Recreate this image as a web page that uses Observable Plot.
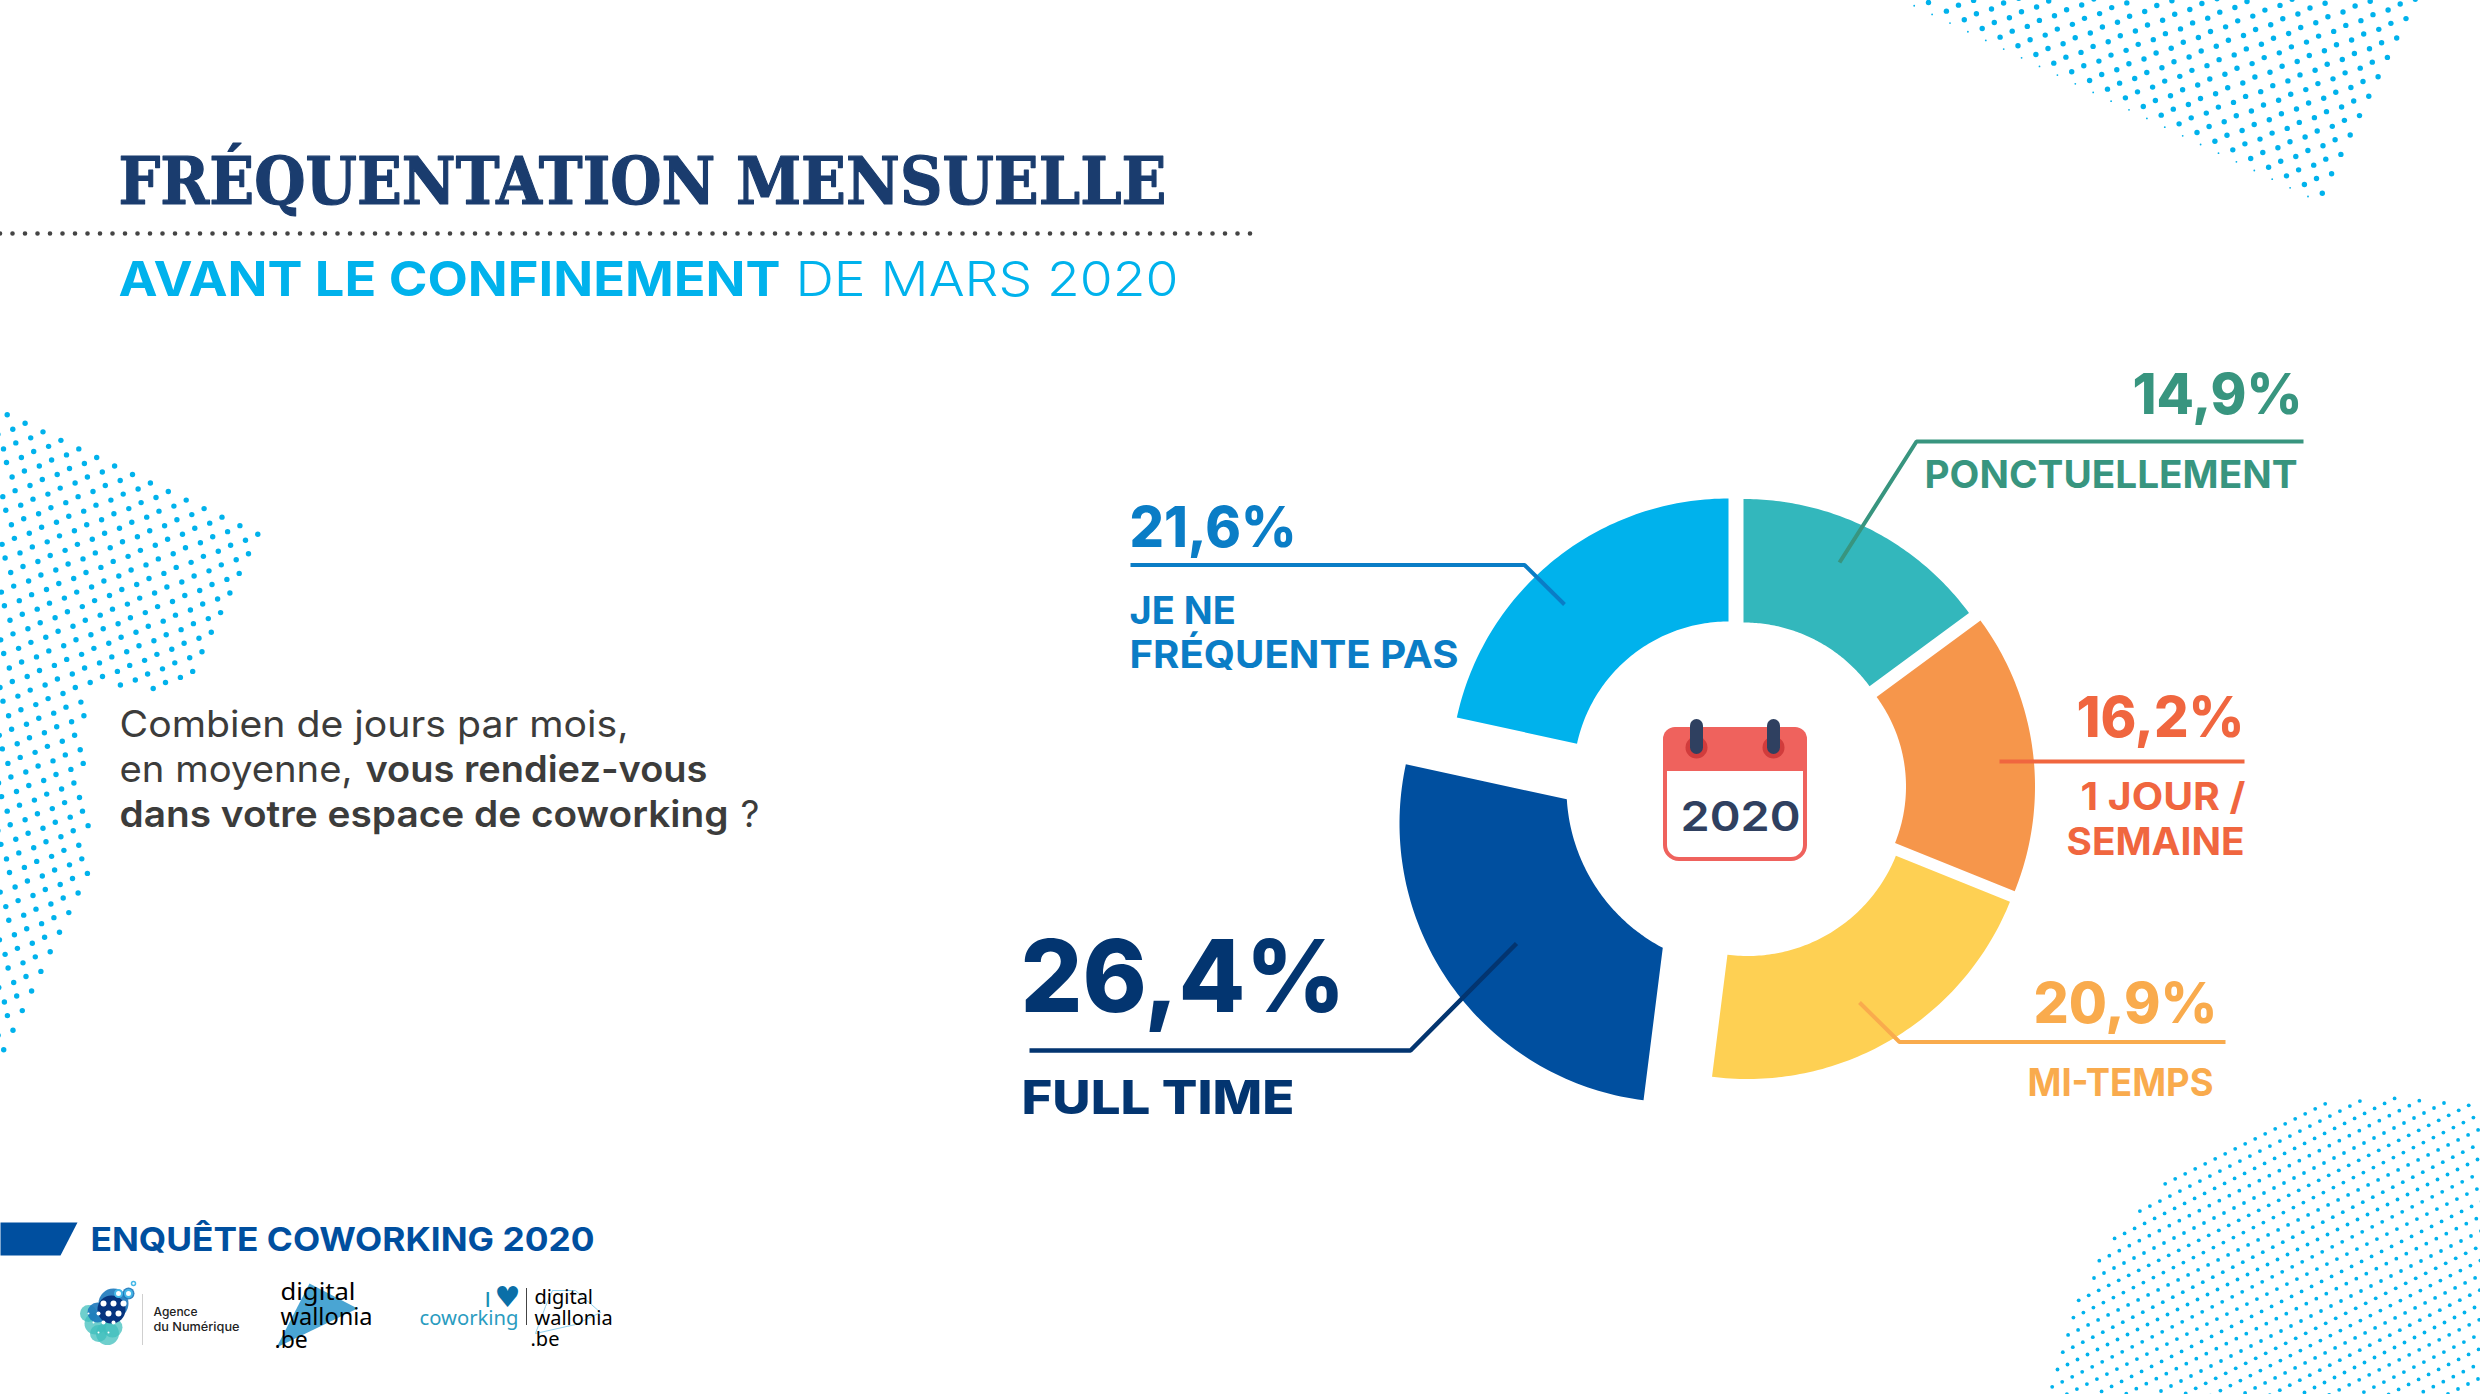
<!DOCTYPE html>
<html lang="fr">
<head>
<meta charset="utf-8">
<title>Fréquentation mensuelle</title>
<script src="https://cdn.jsdelivr.net/npm/d3@7"></script>
<script src="https://cdn.jsdelivr.net/npm/@observablehq/plot@0.6"></script>
<style>
html,body{margin:0;padding:0;background:#fff}
svg{display:block}
</style>
</head>
<body>
<div id="chart"></div>
<script>
// ---- chart data ----
const categories = ["PONCTUELLEMENT", "1 JOUR / SEMAINE", "MI-TEMPS", "FULL TIME", "JE NE FRÉQUENTE PAS"];
const shares = [14.9, 16.2, 20.9, 26.4, 21.6];
const shareLabels = ["14,9%", "16,2%", "20,9%", "26,4%", "21,6%"];
const sliceColors = ["#33b7bc", "#f6964b", "#fed053", "#004f9f", "#00b2ec"];

// ---- layout of each slice (offset wedges, as in the reference) ----
const sliceApex = [[1743,778.5],[1754.5,786],[1747,795.5],[1678,823],[1728,776]];
const sliceOuter = [280,280,283,279,278];
const sliceHole = [[1743,778.5,156.5],[1754.5,786,151],[1747,795.5,160],[1746,788,180],[1728,776,155]];

const F = "Inter, 'Noto Sans', sans-serif";
const SERIF = "'DejaVu Serif', serif";
const NS = "'Noto Sans', sans-serif";
const toRad = d => d * Math.PI / 180;

function rayCircle(ax, ay, ang, hx, hy, hr) {
  const dx = Math.sin(ang), dy = -Math.cos(ang);
  const ox = ax - hx, oy = ay - hy;
  const b = ox*dx + oy*dy, c = ox*ox + oy*oy - hr*hr;
  const t = -b + Math.sqrt(Math.max(0, b*b - c));
  return [ax + t*dx, ay + t*dy];
}
const total = d3.sum(shares);
const cumul = d3.cumsum(shares);
const sliceRows = categories.flatMap((cat, i) => {
  const a0 = toRad((i ? cumul[i-1] : 0) / total * 360);
  const a1 = toRad(cumul[i] / total * 360);
  const [ax, ay] = sliceApex[i], R = sliceOuter[i], [hx, hy, hr] = sliceHole[i];
  const rows = [];
  const N = 80;
  for (let k = 0; k <= N; k++) {
    const t = a0 + (a1 - a0) * k / N;
    rows.push({cat, x: ax + R*Math.sin(t), y: ay - R*Math.cos(t)});
  }
  const p0 = rayCircle(ax, ay, a0, hx, hy, hr), p1 = rayCircle(ax, ay, a1, hx, hy, hr);
  const b1 = Math.atan2(p1[0]-hx, -(p1[1]-hy));
  let b0 = Math.atan2(p0[0]-hx, -(p0[1]-hy));
  while (b0 > b1) b0 -= 2*Math.PI;
  for (let k = 0; k <= N; k++) {
    const t = b1 + (b0 - b1) * k / N;
    rows.push({cat, x: hx + hr*Math.sin(t), y: hy - hr*Math.cos(t)});
  }
  return rows;
});

// ---- decorative dot screens ----
function lattice(o, a, e, c, n, keep) {
  const out = [];
  for (let i = -n; i <= n; i++) for (let j = -n; j <= n; j++) for (const k of (c ? [0,1] : [0])) {
    const x = o[0] + i*a[0] + j*e[0] + (k ? c[0] : 0);
    const y = o[1] + i*a[1] + j*e[1] + (k ? c[1] : 0);
    if (x >= -3 && y >= -3 && x <= 2483 && y <= 1397 && keep(x, y)) out.push({x, y});
  }
  return out;
}
const inPoly = (poly) => (x, y) => d3.polygonContains(poly, [x, y]);
const leftTri = inPoly([[-5,408],[260,534],[-5,1082]]);
const dotsLeft = lattice([257.3,533.7],[17.9,8.53],[9.3,-19.6],[-12.3,6.0],60,
  (x,y) => leftTri(x,y) && !(x > 88 && y > 690 && y < 867));
const dotsTop = lattice([2321.8,192.7],[17.9,8.67],[9.3,-19.4],[12.1,-6.0],60,
  inPoly([[1896,-6],[2420,-6],[2325,197],[2312,198]]));
const dotsTopEdge = d3.range(0, 24).map(i => ({x: 2307.5 - i*17.9, y: 196 - i*8.67})).filter(d => d.y > 0);
const dotsBottom = lattice([2154.7,1188.3],[14.7,7.3],[10,-5],null,70,
  (x,y) => Math.hypot(x-2395, y-1445) < 350);

// ---- helper for text ----
function label(text, x, y, o = {}) {
  const {width, size, weight = 700, color = "#000", anchor = "start", family = F, thicken} = o;
  return Plot.text([{text, x, y}], {
    x: "x", y: "y", text: "text",
    fontSize: size, fontWeight: weight, fontFamily: family, fill: color,
    textAnchor: anchor, lineAnchor: "bottom",
    ...(thicken ? {stroke: color, strokeWidth: thicken} : {}),
    render: width ? (i, s, v, d, c, next) => {
      const g = next(i, s, v, d, c);
      d3.select(g).selectAll("text").attr("textLength", width).attr("lengthAdjust", "spacingAndGlyphs");
      return g;
    } : undefined
  });
}
const path = (pts, stroke, strokeWidth) => Plot.line(pts.map(([x,y]) => ({x,y})), {
  x:"x", y:"y", stroke, strokeWidth, strokeLinejoin:"miter", strokeLinecap:"butt"
});
const poly = (pts, fill, extra = {}) => Plot.line(pts.map(([x,y]) => ({x,y})), {
  x:"x", y:"y", fill, stroke:"none", ...extra
});

// leader line colours / label colours
const C = {teal:"#38957f", orange:"#f0663f", amber:"#f9ab4d", navy:"#033570", blue:"#0a7dc6"};

const marks = [
  // backgrounds
  Plot.dot(dotsLeft, {x:"x", y:"y", r:2.7, fill:"#00b2ec", stroke:"none"}),
  Plot.dot(dotsTop, {x:"x", y:"y", r:2.7, fill:"#00b2ec", stroke:"none"}),
  Plot.dot(dotsTopEdge, {x:"x", y:"y", r:0.9, fill:"#00b2ec", stroke:"none"}),
  Plot.dot(dotsBottom, {x:"x", y:"y", r:1.9, fill:"#00b2ec", stroke:"none"}),

  // titles
  label("FRÉQUENTATION MENSUELLE", 118, 203, {size:65, weight:700, color:"#1a3c6e", family:SERIF, width:1048, thicken:1.2}),
  Plot.ruleY([233], {x1:0, x2:1253, stroke:"#444", strokeWidth:4.6, strokeDasharray:"0 12.5", strokeLinecap:"round"}),
  label("AVANT LE CONFINEMENT", 118, 295, {size:48, weight:700, color:"#00b2ec", width:662}),
  label("DE MARS 2020", 795, 295, {size:48, weight:300, color:"#00b2ec", width:383}),

  // question
  label("Combien de jours par mois,", 119, 736, {size:37, weight:400, color:"#3c3c3b", width:509}),
  label("en moyenne,", 119, 781, {size:37, weight:400, color:"#3c3c3b", width:233}),
  label("vous rendiez-vous", 365, 781, {size:37, weight:600, color:"#3c3c3b", width:342}),
  label("dans votre espace de coworking", 119, 826, {size:37, weight:600, color:"#3c3c3b", width:609}),
  label("?", 740, 826, {size:37, weight:400, color:"#3c3c3b"}),

  // donut
  Plot.line(sliceRows, {x:"x", y:"y", fill:"cat", stroke:"none"}),

  // leader lines
  path([[1839,562],[1916,441],[2303,441]], C.teal, 4),
  path([[1130,564.5],[1524,564.5],[1564,604]], C.blue, 4),
  path([[1999,761],[2244,761]], C.orange, 4),
  path([[1859,1002],[1899,1041.5],[2225,1041.5]], C.amber, 4),
  path([[1516,943],[1410,1050],[1029,1050]], C.navy, 4.5),

  // labels
  label(shareLabels[0], 2302, 413, {size:56, weight:800, color:C.teal, anchor:"end", width:170}),
  label("PONCTUELLEMENT", 1924, 487, {size:38, color:C.teal, width:373}),
  label(shareLabels[4], 1129, 546, {size:56, weight:800, color:C.blue, width:167}),
  label("JE NE", 1129, 623, {size:38, color:C.blue}),
  label("FRÉQUENTE PAS", 1129, 667, {size:38, color:C.blue, width:329}),
  label(shareLabels[1], 2244, 736, {size:56, weight:800, color:C.orange, anchor:"end", width:168}),
  label("1 JOUR /", 2245, 809, {size:38, color:C.orange, anchor:"end", width:165}),
  label("SEMAINE", 2244, 854, {size:38, color:C.orange, anchor:"end", width:178}),
  label(shareLabels[2], 2217, 1022, {size:56, weight:800, color:C.amber, anchor:"end", width:184}),
  label("MI-TEMPS", 2213, 1095, {size:38, color:C.amber, anchor:"end", width:186}),
  label(shareLabels[3], 1020, 1011, {size:100, weight:800, color:C.navy, width:325}),
  label("FULL TIME", 1021, 1113, {size:46, weight:800, color:C.navy, width:273}),

  // calendar
  Plot.rect([{}], {x1:()=>1665, x2:()=>1805, y1:()=>729, y2:()=>859, rx:14, fill:"#fff", stroke:"#ef625d", strokeWidth:4}),
  Plot.rect([{}], {x1:()=>1663, x2:()=>1807, y1:()=>727, y2:()=>771, rx:12, fill:"#ef625d", stroke:"none"}),
  Plot.rect([{}], {x1:()=>1663, x2:()=>1807, y1:()=>750, y2:()=>771, fill:"#ef625d", stroke:"none"}),
  Plot.dot([[1696,747],[1773,747]], {x:"0", y:"1", r:11, fill:"#d13c3c", stroke:"none"}),
  Plot.link([1696,1773], {x1:d=>d, x2:d=>d, y1:()=>725, y2:()=>747, stroke:"#2f4060", strokeWidth:13, strokeLinecap:"round"}),
  label("2020", 1740, 830, {size:41, weight:600, color:"#2f4060", anchor:"middle", width:120}),

  // footer band
  poly([[0,1222],[77,1222],[60,1255],[0,1255]], "#004f9f"),
  label("ENQUÊTE COWORKING 2020", 90, 1250, {size:33, color:"#004f9f", width:504}),

  // logo: Agence du Numérique
  Plot.dot([[88,1313,8.5],[95,1323,11],[107,1333,11.5],[98,1333,8.5],[112,1327,10]], {x:"0", y:"1", r:"2", fill:"#3fbfbc", fillOpacity:0.75, stroke:"none"}),
  Plot.dot([[97,1312,10],[113,1303,15],[128,1293,6]], {x:"0", y:"1", r:"2", fill:"#1c78bb", fillOpacity:0.9, stroke:"none"}),
  Plot.dot([[111,1309,14]], {x:"0", y:"1", r:"2", fill:"#06347f", stroke:"none"}),
  Plot.dot([[103,1303,3],[113,1303,3],[123,1303,3],[108,1313,3],[118,1313,3],[98,1313,2],[103,1322,2],[113,1322,2],[93,1322,1],[88,1313,1],[98,1332,1],[108,1332,1]], {x:"0", y:"1", r:"2", fill:"#fff", stroke:"none"}),
  Plot.dot([[118,1293],[128,1293]], {x:"0", y:"1", r:3.5, fill:"#fff", stroke:"#45b8e8", strokeWidth:2}),
  Plot.dot([[133,1283]], {x:"0", y:"1", r:2, fill:"#fff", stroke:"#45b8e8", strokeWidth:1.5}),
  Plot.ruleX([142], {y1:1294, y2:1345, stroke:"#cfcfcf", strokeWidth:1}),
  label("Agence", 153, 1315, {size:12, weight:500, color:"#222"}),
  label("du Numérique", 153, 1330, {size:12, weight:500, color:"#222", width:86}),

  // logo: digitalwallonia.be
  poly([[309,1283],[357,1308],[276,1347]], "#4aa5d3"),
  label("digital", 280, 1299, {size:23, weight:400, color:"#000", family:NS, width:75}),
  label("wallonia", 280, 1324, {size:23, weight:400, color:"#000", family:NS, width:92}),
  label(".be", 274, 1347, {size:23, weight:400, color:"#000", family:NS}),

  // logo: I love coworking
  path([[552,1290],[575,1290],[600,1312],[575,1324],[535,1333],[545,1306],[552,1290]], "#8fd0ee", 1),
  label("I", 490, 1306, {size:20, weight:500, color:"#1a8fb5", anchor:"end"}),
  label("♥", 507, 1306, {size:29, weight:400, color:"#0a6fa8", anchor:"middle", family:"'DejaVu Sans',sans-serif"}),
  label("coworking", 518, 1324, {size:20, weight:400, color:"#2a9cbf", anchor:"end", width:99, family:NS}),
  Plot.ruleX([526], {y1:1288, y2:1325, stroke:"#444", strokeWidth:1}),
  label("digital", 534, 1303, {size:20, weight:400, color:"#000", family:NS}),
  label("wallonia", 534, 1324, {size:20, weight:400, color:"#000", family:NS}),
  label(".be", 530, 1345, {size:20, weight:400, color:"#000", family:NS})
];

const chart = Plot.plot({
  width: 2480,
  height: 1394,
  margin: 0,
  x: {domain: [0, 2480], range: [0, 2480], axis: null},
  y: {domain: [0, 1394], range: [0, 1394], axis: null},
  r: {type: "identity"},
  color: {domain: categories, range: sliceColors},
  style: {background: "#fff"},
  marks
});
document.getElementById("chart").append(chart);
</script>
</body>
</html>
